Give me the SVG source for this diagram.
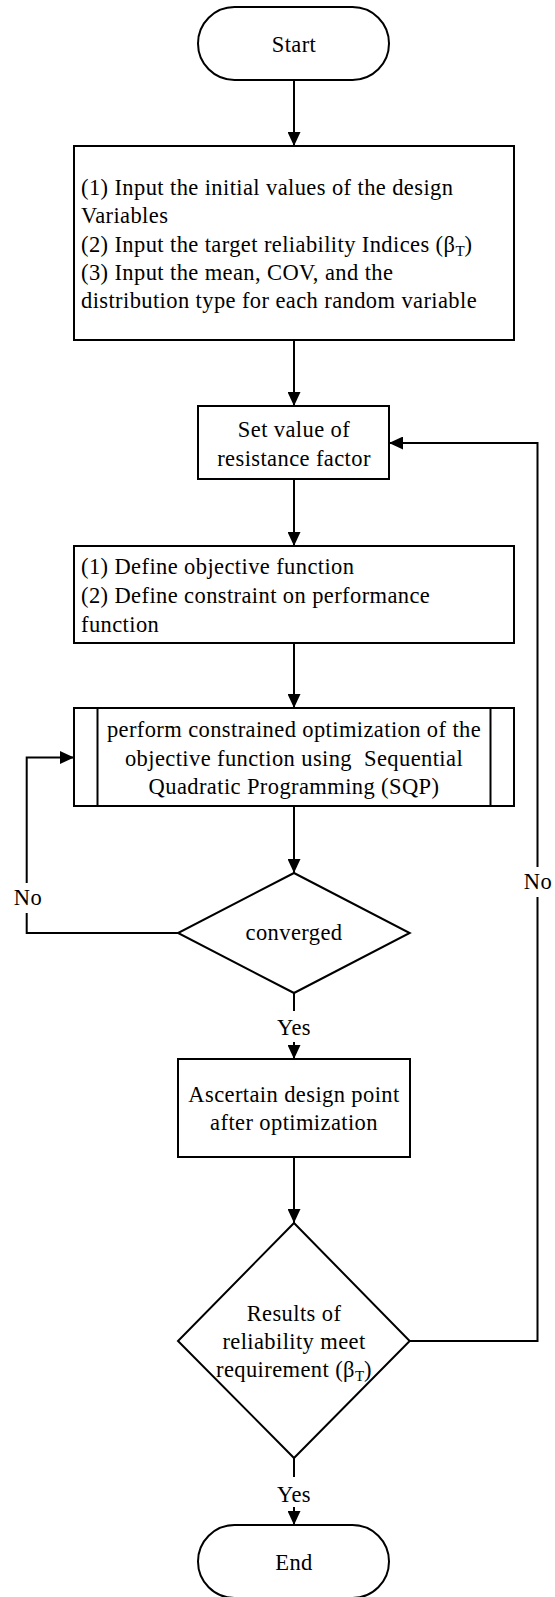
<svg xmlns="http://www.w3.org/2000/svg" width="555" height="1597" viewBox="0 0 555 1597">
<style>
.shape{fill:#fff;stroke:#000;stroke-width:2}
.line{fill:none;stroke:#000;stroke-width:2}
text{font-family:"Liberation Serif","Times New Roman",serif;font-size:22.5px;letter-spacing:0.4px;fill:#000}
.c{text-anchor:middle}
.sub{font-size:15px;letter-spacing:0}
.pre{white-space:pre}
</style>
<defs>
<marker id="arr" markerUnits="userSpaceOnUse" markerWidth="15" markerHeight="13" refX="14" refY="6.5" orient="auto">
<path d="M0,0 L14,6.5 L0,13 z" fill="#000"/>
</marker>
</defs>
<rect width="555" height="1597" fill="#fff"/>
<g id="connectors">
<line class="line" x1="294" y1="80" x2="294" y2="146" marker-end="url(#arr)"/>
<line class="line" x1="294" y1="340" x2="294" y2="406" marker-end="url(#arr)"/>
<line class="line" x1="294" y1="479" x2="294" y2="546" marker-end="url(#arr)"/>
<line class="line" x1="294" y1="643" x2="294" y2="708" marker-end="url(#arr)"/>
<line class="line" x1="294" y1="806" x2="294" y2="873" marker-end="url(#arr)"/>
<path class="line" d="M178,933 H26.7 V913"/>
<path class="line" d="M26.7,883 V757.5 H74" marker-end="url(#arr)"/>
<line class="line" x1="294" y1="993" x2="294" y2="1011"/>
<line class="line" x1="294" y1="1042" x2="294" y2="1059" marker-end="url(#arr)"/>
<line class="line" x1="294" y1="1157" x2="294" y2="1223" marker-end="url(#arr)"/>
<path class="line" d="M409.7,1341 H537.5 V897"/>
<path class="line" d="M537.5,867 V443 H389" marker-end="url(#arr)"/>
<line class="line" x1="294" y1="1458" x2="294" y2="1477"/>
<line class="line" x1="294" y1="1507" x2="294" y2="1525" marker-end="url(#arr)"/>
<text class="c" x="28" y="905">No</text>
<text class="c" x="538" y="889">No</text>
<text class="c" x="294" y="1035">Yes</text>
<text class="c" x="294" y="1502">Yes</text>
</g>
<g id="start">
<rect class="shape" x="198" y="7" width="191" height="73" rx="36.5" ry="36.5"/>
<text class="c" x="294" y="52">Start</text>
</g>
<g id="input">
<rect class="shape" x="74" y="146" width="440" height="194"/>
<text x="81" y="195">(1) Input the initial values of the design</text>
<text x="81" y="223">Variables</text>
<text x="81" y="252">(2) Input the target reliability Indices (β<tspan class="sub" dy="4">T</tspan><tspan dy="-4">)</tspan></text>
<text x="81" y="280">(3) Input the mean, COV, and the</text>
<text x="81" y="308">distribution type for each random variable</text>
</g>
<g id="resistance">
<rect class="shape" x="198" y="406" width="191" height="73"/>
<text class="c" x="294" y="437">Set value of</text>
<text class="c" x="294" y="466">resistance factor</text>
</g>
<g id="define">
<rect class="shape" x="74" y="546" width="440" height="97"/>
<text x="81" y="574">(1) Define objective function</text>
<text x="81" y="603">(2) Define constraint on performance</text>
<text x="81" y="632">function</text>
</g>
<g id="optimize">
<rect class="shape" x="74" y="708" width="440" height="98"/>
<line class="line" x1="97.5" y1="708" x2="97.5" y2="806"/>
<line class="line" x1="490.5" y1="708" x2="490.5" y2="806"/>
<text class="c" x="294" y="737">perform constrained optimization of the</text>
<text class="c pre" x="294" y="766" xml:space="preserve">objective function using  Sequential</text>
<text class="c" x="294" y="794">Quadratic Programming (SQP)</text>
</g>
<g id="converged">
<polygon class="shape" points="294,873 409.7,933 294,993 178,933"/>
<text class="c" x="294" y="940">converged</text>
</g>
<g id="design-point">
<rect class="shape" x="178" y="1059" width="232" height="98"/>
<text class="c" x="294" y="1102">Ascertain design point</text>
<text class="c" x="294" y="1130">after optimization</text>
</g>
<g id="reliability">
<polygon class="shape" points="294,1223 409.7,1341 294,1458 178,1341"/>
<text class="c" x="294" y="1321">Results of</text>
<text class="c" x="294" y="1349">reliability meet</text>
<text class="c" x="294" y="1377">requirement (β<tspan class="sub" dy="4">T</tspan><tspan dy="-4">)</tspan></text>
</g>
<g id="end">
<rect class="shape" x="198" y="1525" width="191" height="73" rx="36.5" ry="36.5"/>
<text class="c" x="294" y="1570">End</text>
</g>
</svg>
